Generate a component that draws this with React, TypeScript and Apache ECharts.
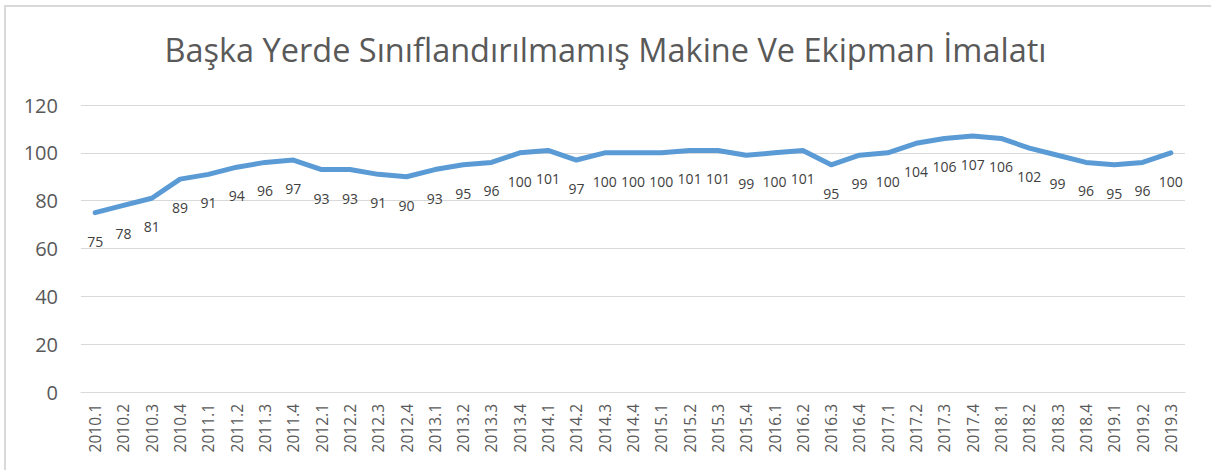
import React, { useEffect, useRef } from "react";
import * as echarts from "echarts";

const titleText = "Başka Yerde Sınıflandırılmamış Makine Ve Ekipman İmalatı";

const categories = [
  "2010.1", "2010.2", "2010.3", "2010.4",
  "2011.1", "2011.2", "2011.3", "2011.4",
  "2012.1", "2012.2", "2012.3", "2012.4",
  "2013.1", "2013.2", "2013.3", "2013.4",
  "2014.1", "2014.2", "2014.3", "2014.4",
  "2015.1", "2015.2", "2015.3", "2015.4",
  "2016.1", "2016.2", "2016.3", "2016.4",
  "2017.1", "2017.2", "2017.3", "2017.4",
  "2018.1", "2018.2", "2018.3", "2018.4",
  "2019.1", "2019.2", "2019.3",
];

const values = [
  75, 78, 81, 89,
  91, 94, 96, 97,
  93, 93, 91, 90,
  93, 95, 96, 100,
  101, 97, 100, 100,
  100, 101, 101, 99,
  100, 101, 95, 99,
  100, 104, 106, 107,
  106, 102, 99, 96,
  95, 96, 100,
];

const yMin = 0;
const yMax = 120;
const yInterval = 20;

export default function App() {
  const ref = useRef<HTMLDivElement>(null);

  useEffect(() => {
    if (!ref.current) return;
    const chart = echarts.init(ref.current, null, { renderer: "svg" });
    const font = "'Open Sans', 'Noto Sans', sans-serif";
    chart.setOption({
      animation: false,
      backgroundColor: "#ffffff",
      title: {
        text: titleText,
        left: "center",
        top: 28,
        textStyle: {
          color: "#595959",
          fontSize: 32.5,
          fontWeight: "normal",
          fontFamily: font,
        },
      },
      graphic: [
        {
          type: "line",
          shape: { x1: 4, y1: 6, x2: 1211, y2: 6 },
          style: { stroke: "#d9d9d9", lineWidth: 2 },
          silent: true,
        },
        {
          type: "line",
          shape: { x1: 5, y1: 6, x2: 5, y2: 470 },
          style: { stroke: "#d9d9d9", lineWidth: 2 },
          silent: true,
        },
      ],
      grid: {
        left: 81,
        right: 26,
        top: 105,
        bottom: 78,
        containLabel: false,
      },
      xAxis: {
        type: "category",
        data: categories,
        boundaryGap: true,
        axisLine: { show: true, lineStyle: { color: "#d9d9d9", width: 1 } },
        axisTick: { show: false },
        axisLabel: {
          rotate: 90,
          interval: 0,
          color: "#595959",
          fontSize: 15.5,
          fontFamily: font,
          margin: 12,
        },
      },
      yAxis: {
        type: "value",
        min: yMin,
        max: yMax,
        interval: yInterval,
        axisLine: { show: false },
        axisTick: { show: false },
        splitLine: { lineStyle: { color: "#d9d9d9", width: 1 } },
        axisLabel: {
          color: "#595959",
          fontSize: 20,
          fontFamily: font,
          margin: 23,
        },
      },
      series: [
        {
          type: "line",
          data: values,
          symbol: "circle",
          symbolSize: 1,
          showSymbol: true,
          smooth: false,
          lineStyle: { color: "#5b9bd5", width: 5, cap: "round", join: "round" },
          itemStyle: { color: "#5b9bd5" },
          label: {
            show: true,
            position: "bottom",
            distance: 21,
            color: "#404040",
            fontSize: 14,
            fontFamily: font,
          },
        },
      ],
    });
    return () => chart.dispose();
  }, []);

  return (
    <div
      ref={ref}
      style={{ position: "fixed", left: 0, top: 0, width: 1211, height: 470 }}
    />
  );
}
